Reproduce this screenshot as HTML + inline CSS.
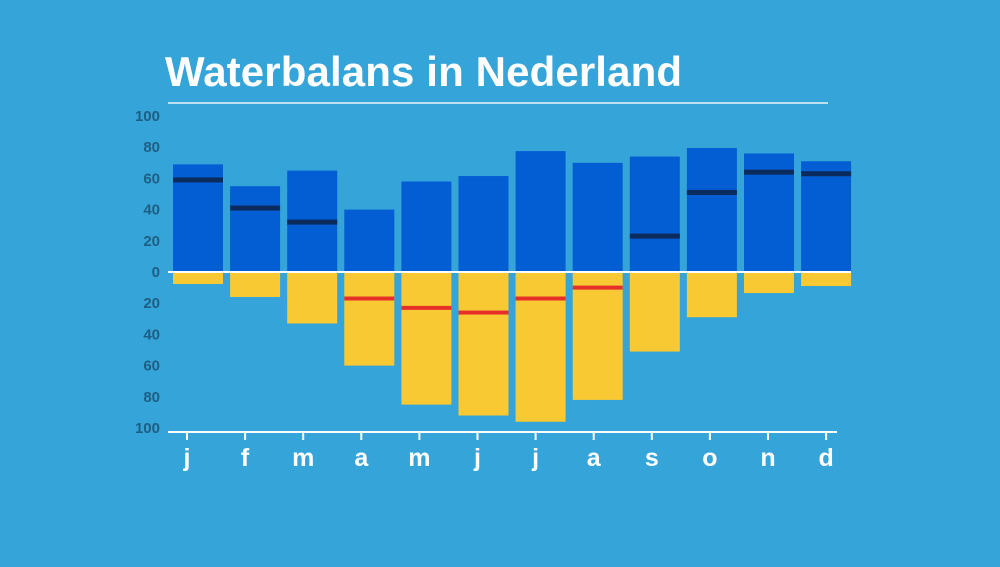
<!DOCTYPE html>
<html><head><meta charset="utf-8"><style>
body{margin:0;width:1000px;height:562px;background:#35a4d8;overflow:hidden;font-family:"Liberation Sans",sans-serif}
</style></head><body>
<svg width="1000" height="562">
<text x="165" y="86" font-size="42" font-weight="bold" fill="#fff" textLength="517">Waterbalans in Nederland</text>
<line x1="168" y1="103" x2="828" y2="103" stroke="#e8f4fb" stroke-width="1.5"/>
<g id="g"></g>
</svg>
<script>
const months=["j","f","m","a","m","j","j","a","s","o","n","d"];
const inflow=[69,55,65,40,58,61.5,77.5,70,74,79.5,76,71];
const inflowMark=[59,41,32,null,null,null,null,null,23,51,64,63];
const outflow=[-7.7,-16,-33,-60,-85,-92,-96,-82,-51,-29,-13.5,-9];
const outflowMark=[null,null,null,-17,-23,-26,-17,-10,null,null,null,null];
const yTicks=[100,80,60,40,20,0,-20,-40,-60,-80,-100];
const NS="http://www.w3.org/2000/svg",g=document.getElementById('g');
const y=v=>272-v*1.56, bx=i=>173+i*57.1, tx=i=>187+i*58.1, BW=50;
function mk(t,a){const e=document.createElementNS(NS,t);for(const k in a)e.setAttribute(k,a[k]);g.appendChild(e);return e;}
months.forEach((m,i)=>{
 let e=mk('rect',{x:bx(i),y:y(inflow[i]),width:BW,height:y(0)-y(inflow[i]),fill:'#045ed3'});
 
 
 e=mk('rect',{x:bx(i),y:y(0),width:BW,height:y(outflow[i])-y(0),fill:'#f9c933'});
 
 
 if(inflowMark[i]!=null){e=mk('rect',{x:bx(i),y:y(inflowMark[i])-2.5,width:BW,height:5,fill:'#0b2b5c'});
 
 }
 if(outflowMark[i]!=null){e=mk('rect',{x:bx(i),y:y(outflowMark[i])-2,width:BW,height:4,fill:'#e5302a'});
 
 }
 e=mk('line',{x1:tx(i),x2:tx(i),y1:432,y2:440,stroke:'#fff','stroke-width':2});
 
 
 e=mk('text',{x:tx(i),y:466,'text-anchor':'middle','font-size':25,'font-weight':'bold',fill:'#fff'});e.textContent=m;
 
 
});
yTicks.forEach(v=>{const e=mk('text',{x:160,y:y(v)+5,'text-anchor':'end','font-size':15,'font-weight':'bold',fill:'#1d5f85'});e.textContent=Math.abs(v);
 
 });
let e=mk('line',{x1:168,x2:851,y1:272,y2:272,stroke:'#fff','stroke-width':2});


e=mk('line',{x1:168,x2:837,y1:432,y2:432,stroke:'#fff','stroke-width':2});


</script>
</body></html>
